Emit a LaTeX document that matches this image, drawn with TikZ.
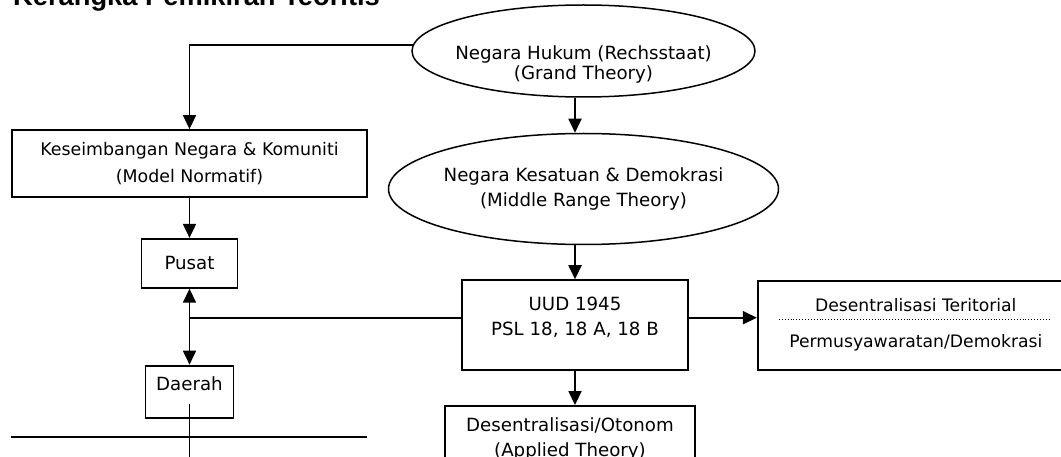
\documentclass[tikz,border=0pt]{standalone}
\usepackage{fontspec}
\setmainfont{DejaVu Sans}
\newfontfamily\headfont{Liberation Sans}
\usetikzlibrary{positioning,arrows.meta,shapes.geometric}
\tikzset{
  base/.style={draw=black,line width=1.8pt,align=center,inner sep=0pt,
    font=\fontsize{18.2}{25}\selectfont},
  theory/.style={base,ellipse,inner xsep=-12pt,line width=1.5pt},
  box/.style={base,rectangle},
  ar/.style={-{Triangle[length=14pt,width=13pt]},line width=1.8pt},
  ln/.style={line width=1.8pt},
  head/.style={font=\headfont\bfseries\fontsize{27.3}{30}\selectfont,inner sep=0pt,anchor=base west},
}

\begin{document}
\begin{tikzpicture}[x=1pt,y=-1pt]
\useasboundingbox (0,0) rectangle (1061,457);
\node[head] (title) at (13,6) {Kerangka Pemikiran Teoritis};

% ---- theories ----
\node[theory,minimum width=343pt,minimum height=92pt,font=\fontsize{18.2}{20}\selectfont] (hukum) at (583.5,51)
  {\rule{0pt}{40pt}Negara Hukum (Rechsstaat)\\(Grand Theory)};
\node[theory,minimum width=390pt,minimum height=111pt,below=35pt of hukum] (kesatuan)
  {Negara Kesatuan \& Demokrasi\\(Middle Range Theory)};
\node[box,minimum width=226pt,minimum height=90pt,below=34pt of kesatuan,xshift=-8.5pt] (uud)
  {UUD 1945\\PSL 18, 18 A, 18 B\rule[-18pt]{0pt}{18pt}};
\node[box,minimum width=316pt,minimum height=89pt,right=68pt of uud,font=\fontsize{17.2}{36}\selectfont] (ter)
  {Desentralisasi Teritorial\\Permusyawaratan/Demokrasi};
\node[box,minimum width=250pt,minimum height=66pt,below=34pt of uud,xshift=-5pt] (oto)
  {Desentralisasi/Otonom\\(Applied Theory)};

% ---- left column ----
\node[box,minimum width=355pt,minimum height=67pt,font=\fontsize{17.4}{27}\selectfont] (kes) at (189.5,163.5)
  {Keseimbangan Negara \& Komuniti\\(Model Normatif)};
\node[box,minimum width=96pt,minimum height=49pt,below=40pt of kes] (pusat) {Pusat};
\node[box,minimum width=88pt,minimum height=52pt,text depth=16pt,below=76pt of pusat] (daerah) {Daerah};

% ---- connectors ----
\draw[dotted,line width=0.9pt] ([xshift=22pt,yshift=5.5pt]ter.west) -- ([xshift=-26pt,yshift=5.5pt]ter.east);
\draw[ar] (hukum.178) -| (kes.north);
\draw[ar] (uud.north |- hukum.south) -- (uud.north |- kesatuan.north);
\draw[ar] (uud.north |- kesatuan.south) -- (uud.north);
\draw[ar] (kes.south) -- (pusat.north);
\coordinate (jn) at ([yshift=-29pt]pusat.south);
\draw[ln] (jn) -- (jn -| uud.west);
\draw[ar] (jn) -- (pusat.south);
\draw[ar] (jn) -- (daerah.north);
\draw[ar] (uud.east |- jn) -- (ter.west |- jn);
\draw[ar] (uud.south) -- (uud.south |- oto.north);
\draw[ln] ([yshift=-12pt]daerah.center) -- ++(0,70);

% footnote rule
\coordinate (fl) at (11,437);
\coordinate (fr) at (367,437);
\draw[ln] (fl) -- (fr);
\end{tikzpicture}
\end{document}
